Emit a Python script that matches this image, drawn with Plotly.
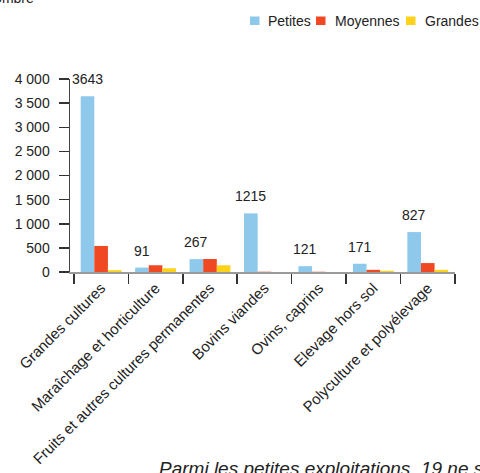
import plotly.graph_objects as go

categories = ["Grandes cultures", "Maraîchage et horticulture",
              "Fruits et autres cultures permanentes", "Bovins viandes",
              "Ovins, caprins", "Elevage hors sol", "Polyculture et polyélevage"]
petites = [3643, 91, 267, 1215, 121, 171, 827]
moyennes = [540, 140, 270, 6, 5, 45, 185]
grandes = [38, 77, 140, 0, 0, 25, 45]
series_names = ["Petites", "Moyennes", "Grandes"]
colors = ["#8ec8eb", "#ef4823", "#fdd21b"]
ytickvals = [0, 500, 1000, 1500, 2000, 2500, 3000, 3500, 4000]
yticktext = ["0", "500", "1 000", "1 500", "2 000", "2 500", "3 000", "3 500", "4 000"]
y_title = "Nombre"
footnote = "Parmi les petites exploitations, 19 ne sont pas classées."

W, H = 480, 473
L, R, T, B = 70, 25, 79, 201
FONT = "Liberation Sans, Arial, sans-serif"
TXT = "#222222"

fig = go.Figure()
for name, vals, col in zip(series_names, [petites, moyennes, grandes], colors):
    fig.add_trace(go.Bar(name=name, x=categories, y=vals, marker_color=col,
                         marker_line_width=0, showlegend=False, hoverinfo="skip"))

# data labels on the "Petites" series
for i, v in enumerate(petites):
    fig.add_annotation(x=i - 0.25, y=v, xref="x", yref="y", text=str(v),
                       showarrow=False, yanchor="middle", yshift=17,
                       font=dict(size=14, color=TXT, family=FONT))

pw, ph = W - L - R, H - T - B
def px(x):
    return (x - L) / pw
def py(y):
    return (H - B - y) / ph

# manual legend
leg_sq = [250, 316, 406]
leg_tx = [266, 333, 423]
for name, col, sx, tx in zip(series_names, colors, leg_sq, leg_tx):
    fig.add_shape(type="rect", xref="paper", yref="paper",
                  x0=px(sx), x1=px(sx + 9.5), y0=py(16.5), y1=py(25),
                  fillcolor=col, line_width=0)
    fig.add_annotation(xref="paper", yref="paper", x=px(tx), y=py(20.5),
                       xanchor="left", yanchor="middle", text=name,
                       showarrow=False, font=dict(size=14, color=TXT, family=FONT))

fig.add_annotation(xref="paper", yref="paper", x=px(36), y=py(-2),
                   xanchor="right", yanchor="middle", text=y_title,
                   showarrow=False, font=dict(size=14, color=TXT, family=FONT))
fig.add_annotation(xref="paper", yref="paper", x=px(157), y=py(468),
                   xanchor="left", yanchor="middle", text="<i>" + footnote + "</i>",
                   showarrow=False, font=dict(size=19, color=TXT, family=FONT))

fig.update_layout(
    width=W, height=H, margin=dict(l=L, r=R, t=T, b=B, autoexpand=False),
    barmode="group", bargap=0.25, bargroupgap=0,
    plot_bgcolor="white", paper_bgcolor="white",
    font=dict(family=FONT, size=14, color=TXT),
    showlegend=False, hovermode=False,
)
fig.update_xaxes(showgrid=False, showline=True, linecolor="#9a9a9a", linewidth=1.5,
                 ticks="outside", tickson="boundaries", ticklen=10, tickcolor="#333333",
                 tickwidth=1.5, tickangle=-45, tickfont=dict(size=15, color=TXT),
                 zeroline=False)
fig.update_yaxes(range=[0, 4000], tickvals=ytickvals, ticktext=yticktext,
                 showgrid=False, showline=True, linecolor="#444444", linewidth=1.5,
                 ticks="outside", ticklen=10, tickcolor="#333333", tickwidth=1.5,
                 ticklabelstandoff=6, tickfont=dict(size=14, color=TXT),
                 zeroline=False)

fig.write_html("out.html", config={"displayModeBar": False, "staticPlot": True},
               post_script="document.body.style.margin='0';document.body.style.overflow='hidden';")
